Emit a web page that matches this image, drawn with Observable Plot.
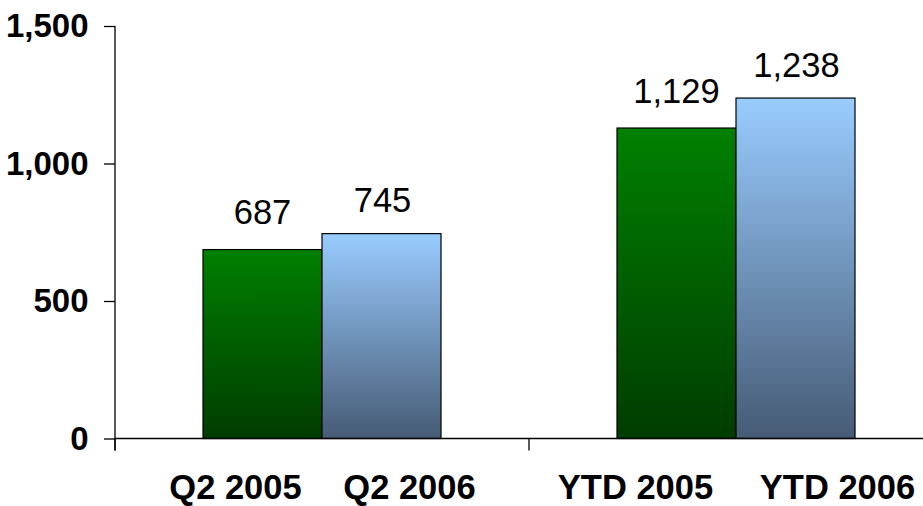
<!DOCTYPE html>
<html>
<head>
<meta charset="utf-8">
<script src="https://cdn.jsdelivr.net/npm/d3@7"></script>
<script src="https://cdn.jsdelivr.net/npm/@observablehq/plot@0.6"></script>
<style>
  html, body { margin: 0; padding: 0; background: #fff; }
  #chart svg { display: block; font-family: "Liberation Sans", Arial, sans-serif; }
</style>
</head>
<body>
<div id="chart"></div>
<script>
// ---- data ----
const groups = ["Q2", "YTD"];
const series = ["2005", "2006"];
const values2005 = [687, 1129];
const values2006 = [745, 1238];
const barLabels = ["Q2 2005", "Q2 2006", "YTD 2005", "YTD 2006"];
const yTicks = [0, 500, 1000, 1500];

const rows2005 = groups.map((g, i) => ({group: g, series: "2005", value: values2005[i]}));
const rows2006 = groups.map((g, i) => ({group: g, series: "2006", value: values2006[i]}));
const labelRows = barLabels.map((t, i) => ({group: groups[Math.floor(i / 2)], text: t}));

const fmt = d3.format(",");

// gradient definitions
const defs = () => {
  const d = d3.create("svg:defs");
  const g1 = d.append("linearGradient").attr("id", "gGreen").attr("x1", 0).attr("y1", 0).attr("x2", 0).attr("y2", 1);
  g1.append("stop").attr("offset", "0%").attr("stop-color", "#008000");
  g1.append("stop").attr("offset", "100%").attr("stop-color", "#003c00");
  const g2 = d.append("linearGradient").attr("id", "gBlue").attr("x1", 0).attr("y1", 0).attr("x2", 0).attr("y2", 1);
  g2.append("stop").attr("offset", "0%").attr("stop-color", "#99ccff");
  g2.append("stop").attr("offset", "100%").attr("stop-color", "#465b75");
  return d.node();
};

// axis lines drawn from the x/y scales
const axisLines = (index, scales, values, dims) => {
  const {x, y} = scales;
  const g = d3.create("svg:g").attr("stroke", "#000").attr("stroke-width", 1.3).attr("fill", "none");
  const x0 = dims.marginLeft;
  const y0 = y(0);
  g.append("line").attr("x1", x0).attr("x2", x0).attr("y1", y(yTicks[yTicks.length - 1])).attr("y2", y0 + 12);
  g.append("line").attr("x1", x0).attr("x2", dims.width + 40).attr("y1", y0).attr("y2", y0);
  for (const k of groups) {
    const bx = x(k);
    g.append("line").attr("x1", bx).attr("x2", bx).attr("y1", y0).attr("y2", y0 + 12);
  }
  return g.node();
};

const catLabel = (i, dx) => Plot.text(labelRows.filter((d, j) => j === i), {
  x: "group", y: () => 0, text: "text", dx, dy: 60, lineAnchor: "bottom",
  fontSize: 34.5, fontWeight: "bold", fill: "#000"
});

const chart = Plot.plot({
  width: 923,
  height: 506,
  marginLeft: 115,
  marginRight: -20,
  marginTop: 26,
  marginBottom: 67.5,
  style: {background: "#fff", fontFamily: "'Liberation Sans', Arial, sans-serif", overflow: "visible"},
  x: {domain: groups, padding: 0, axis: null},
  y: {domain: [0, 1500], axis: null},
  marks: [
    defs,
    Plot.barY(rows2005, {x: "group", y: "value", fill: "url(#gGreen)", stroke: "#000", strokeWidth: 1.2, insetLeft: 88, insetRight: 207}),
    Plot.barY(rows2006, {x: "group", y: "value", fill: "url(#gBlue)", stroke: "#000", strokeWidth: 1.2, insetLeft: 207, insetRight: 88}),
    axisLines,
    Plot.axisY({ticks: yTicks, tickFormat: fmt, tickSize: 11, tickPadding: 16, fontSize: 33, fontWeight: "bold", stroke: "#000", strokeWidth: 1.3, label: null}),
    Plot.text(rows2005, {x: "group", y: "value", text: d => fmt(d.value), dx: -60, dy: -26, lineAnchor: "bottom", fontSize: 34.5, fill: "#000"}),
    Plot.text(rows2006, {x: "group", y: "value", text: d => fmt(d.value), dx: 60, dy: -22, lineAnchor: "bottom", fontSize: 34.5, fill: "#000"}),
    catLabel(0, -87),
    catLabel(1, 87),
    catLabel(2, -101),
    catLabel(3, 101)
  ]
});
document.getElementById("chart").appendChild(chart);
</script>
</body>
</html>
